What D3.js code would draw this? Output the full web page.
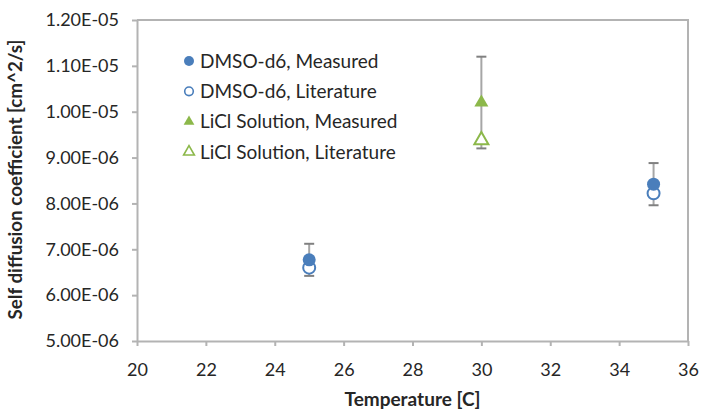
<!DOCTYPE html>
<html>
<head>
<meta charset="utf-8">
<script src="https://cdn.jsdelivr.net/npm/d3@7"></script>
<style>
  body { margin: 0; background: #fff; }
  svg text { font-family: Lato, "Open Sans", sans-serif; fill: #262626; }
</style>
</head>
<body>
<div id="chart"></div>
<script>
var svgWidth = 701;
var svgHeight = 411;

var margin = { top: 20, right: 13, bottom: 70, left: 137 };
var width = svgWidth - margin.left - margin.right;
var height = svgHeight - margin.top - margin.bottom;

// data
var seriesNames = ["DMSO-d6, Measured", "DMSO-d6, Literature", "LiCl Solution, Measured", "LiCl Solution, Literature"];
var dmsoTemp = [25, 35];
var dmsoMeasured = [6.77e-6, 8.42e-6];
var dmsoMeasuredErr = [0.35e-6, 0.46e-6];
var dmsoLiterature = [6.6e-6, 8.22e-6];
var liclTemp = [30];
var liclMeasured = [1.02e-5];
var liclMeasuredErr = [1.0e-6];
var liclLiterature = [9.38e-6];
var xTicks = [20, 22, 24, 26, 28, 30, 32, 34, 36];
var yTicks = [5e-6, 6e-6, 7e-6, 8e-6, 9e-6, 1.0e-5, 1.1e-5, 1.2e-5];

var blue = "#4a7ebb";
var green = "#8cb84a";
var axisGray = "#b3b3b3";

var svg = d3.select("#chart")
  .append("svg")
  .attr("width", svgWidth)
  .attr("height", svgHeight);

var chart = svg.append("g")
  .attr("transform", `translate(${margin.left}, ${margin.top})`);

var xScale = d3.scaleLinear().domain([20, 36]).range([0, width]);
var yScale = d3.scaleLinear().domain([5e-6, 1.2e-5]).range([height, 0]);

// plot border (top and right)
chart.append("path")
  .attr("d", `M0,0H${width}V${height}`)
  .attr("fill", "none")
  .attr("stroke", axisGray)
  .attr("stroke-width", 2);

var bottomAxis = d3.axisBottom(xScale).tickValues(xTicks).tickSize(5).tickSizeOuter(0);
var leftAxis = d3.axisLeft(yScale).tickValues(yTicks).tickSize(5).tickSizeOuter(0)
  .tickFormat(d => d.toExponential(2).toUpperCase().replace(/E([+-])(\d)$/, "E$10$2"));

var xg = chart.append("g")
  .attr("transform", `translate(0, ${height})`)
  .call(bottomAxis);
var yg = chart.append("g").call(leftAxis);

[xg, yg].forEach(function(g) {
  g.select(".domain").attr("stroke", axisGray).attr("stroke-width", 2);
  g.selectAll(".tick line").attr("stroke", axisGray).attr("stroke-width", 2);
  g.selectAll(".tick text")
    .attr("fill", "#262626")
    .attr("font-family", "Lato, 'Open Sans', sans-serif")
    .attr("font-size", 18);
});
xg.selectAll(".tick text").attr("dy", "1.5em");
yg.selectAll(".tick text").attr("x", -18);

// error bars
function errorBars(temps, vals, errs) {
  var g = chart.append("g");
  temps.forEach(function(t, i) {
    var x = xScale(t);
    g.append("line")
      .attr("x1", x).attr("x2", x)
      .attr("y1", yScale(vals[i] + errs[i]))
      .attr("y2", yScale(vals[i] - errs[i]))
      .attr("stroke", "#a6a6a6").attr("stroke-width", 2);
    [vals[i] + errs[i], vals[i] - errs[i]].forEach(function(v) {
      g.append("line")
        .attr("x1", x - 5).attr("x2", x + 5)
        .attr("y1", yScale(v)).attr("y2", yScale(v))
        .attr("stroke", "#808080").attr("stroke-width", 2);
    });
  });
}
errorBars(dmsoTemp, dmsoMeasured, dmsoMeasuredErr);
errorBars(liclTemp, liclMeasured, liclMeasuredErr);

var triangle = d3.symbol().type(d3.symbolTriangle).size(85);

// DMSO literature (hollow circle)
chart.selectAll(".dmso-lit")
  .data(dmsoTemp)
  .enter()
  .append("circle")
  .attr("cx", d => xScale(d))
  .attr("cy", (d, i) => yScale(dmsoLiterature[i]))
  .attr("r", 6)
  .attr("fill", "#fff")
  .attr("stroke", blue)
  .attr("stroke-width", 2);

// DMSO measured
chart.selectAll(".dmso-meas")
  .data(dmsoTemp)
  .enter()
  .append("circle")
  .attr("cx", d => xScale(d))
  .attr("cy", (d, i) => yScale(dmsoMeasured[i]))
  .attr("r", 6.5)
  .attr("fill", blue);

// LiCl measured
chart.selectAll(".licl-meas")
  .data(liclTemp)
  .enter()
  .append("path")
  .attr("d", triangle)
  .attr("transform", (d, i) => `translate(${xScale(d)}, ${yScale(liclMeasured[i])})`)
  .attr("fill", green);

// LiCl literature
chart.selectAll(".licl-lit")
  .data(liclTemp)
  .enter()
  .append("path")
  .attr("d", triangle)
  .attr("transform", (d, i) => `translate(${xScale(d)}, ${yScale(liclLiterature[i])})`)
  .attr("fill", "#fff")
  .attr("stroke", green)
  .attr("stroke-width", 2);

// legend
var legend = svg.append("g").attr("transform", "translate(189, 61)");
var rows = legend.selectAll("g")
  .data(seriesNames)
  .enter()
  .append("g")
  .attr("transform", (d, i) => `translate(0, ${i * 30.3})`);

rows.each(function(d, i) {
  var r = d3.select(this);
  if (i < 2) {
    r.append("circle")
      .attr("r", i === 0 ? 5 : 4.3)
      .attr("fill", i === 0 ? blue : "#fff")
      .attr("stroke", blue)
      .attr("stroke-width", i === 0 ? 0 : 1.6);
  } else {
    r.append("path")
      .attr("d", d3.symbol().type(d3.symbolTriangle).size(50))
      .attr("fill", i === 2 ? green : "#fff")
      .attr("stroke", green)
      .attr("stroke-width", i === 2 ? 0 : 1.6);
  }
  r.append("text")
    .attr("x", 11)
    .attr("dy", "0.36em")
    .attr("font-size", 19)
    .text(d);
});

// axis titles
svg.append("text")
  .attr("transform", `translate(15, ${margin.top + height / 2 - 1}) rotate(-90)`)
  .attr("text-anchor", "middle")
  .attr("dy", "0.35em")
  .attr("font-size", 18.8)
  .attr("font-weight", "bold")
  .text("Self diffusion coefficient [cm^2/s]");

svg.append("text")
  .attr("x", margin.left + width / 2)
  .attr("y", 399)
  .attr("text-anchor", "middle")
  .attr("dy", "0.35em")
  .attr("font-size", 19)
  .attr("font-weight", "bold")
  .text("Temperature [C]");
</script>
</body>
</html>
